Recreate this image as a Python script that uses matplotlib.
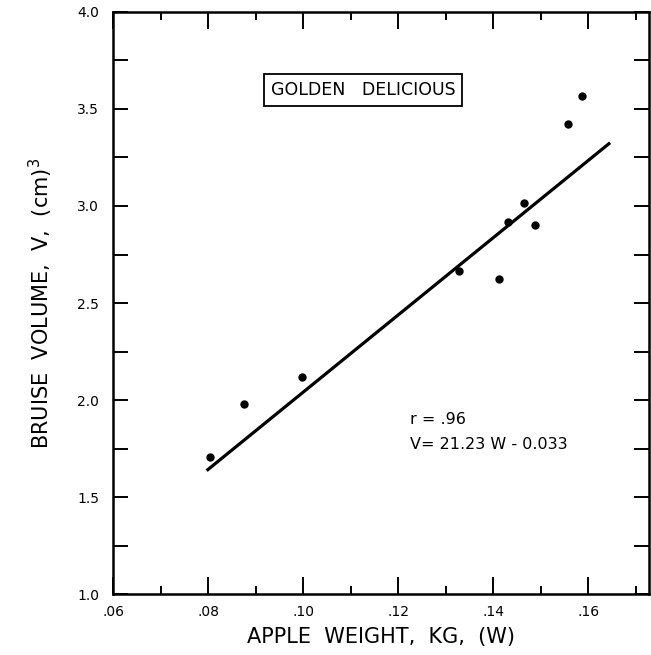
import matplotlib
matplotlib.use("Agg")
import matplotlib.pyplot as plt
from matplotlib.ticker import MultipleLocator, FuncFormatter

# apple weight (kg) and bruise volume (cm^3)
weight = [0.0805, 0.0876, 0.0997, 0.1329, 0.1413, 0.1432, 0.1464, 0.1489, 0.1557, 0.1587]
volume = [1.706, 1.980, 2.120, 2.667, 2.622, 2.916, 3.017, 2.902, 3.423, 3.565]

# regression line as drawn
fit_w = [0.0797, 0.1646]
fit_v = [1.636, 3.326]

x_ticks = [0.06, 0.08, 0.10, 0.12, 0.14, 0.16]
y_ticks = [1.0, 1.5, 2.0, 2.5, 3.0, 3.5, 4.0]


def main():
    plt.rcParams["font.family"] = ["DejaVu Sans"]
    fig = plt.figure(figsize=(6.51, 6.55), dpi=100)
    ax = fig.add_axes([0.1736, 0.0931, 0.8234, 0.8886])

    ax.plot(fit_w, fit_v, color="black", linewidth=2.3, solid_capstyle="butt")
    ax.plot(weight, volume, "o", color="black", markersize=5)

    ax.set_xlim(0.06, 0.1728)
    ax.set_ylim(1.0, 4.0)

    ax.set_xticks(x_ticks)
    ax.xaxis.set_minor_locator(MultipleLocator(0.01))
    ax.xaxis.set_major_formatter(FuncFormatter(lambda v, p: ("%.2f" % v)[1:]))
    ax.set_yticks(y_ticks)
    ax.yaxis.set_minor_locator(MultipleLocator(0.25))
    ax.yaxis.set_major_formatter(FuncFormatter(lambda v, p: "%.1f" % v))

    ax.tick_params(which="both", direction="in", top=True, right=True, width=1.4, labelsize=10)
    ax.tick_params(axis="x", which="major", length=12, pad=8)
    ax.tick_params(axis="x", which="minor", length=6)
    ax.tick_params(axis="y", which="both", length=11, pad=10)

    for s in ax.spines.values():
        s.set_linewidth(1.8)

    ax.set_xlabel("APPLE  WEIGHT,  KG,  (W)", fontsize=15, labelpad=6)
    ax.set_ylabel(r"BRUISE  VOLUME,  V,  (cm)$^3$", fontsize=15, labelpad=16)

    ax.text(0.1126, 3.60, "GOLDEN   DELICIOUS", fontsize=12.5, ha="center", va="center",
            bbox=dict(boxstyle="square,pad=0.4", facecolor="white", edgecolor="black", linewidth=1.3))
    ax.text(0.1225, 1.90, "r = .96", fontsize=11.5, ha="left", va="center")
    ax.text(0.1225, 1.77, "V= 21.23 W - 0.033", fontsize=11.5, ha="left", va="center")

    fig.savefig("out.png", dpi=100)


if __name__ == "__main__":
    main()
